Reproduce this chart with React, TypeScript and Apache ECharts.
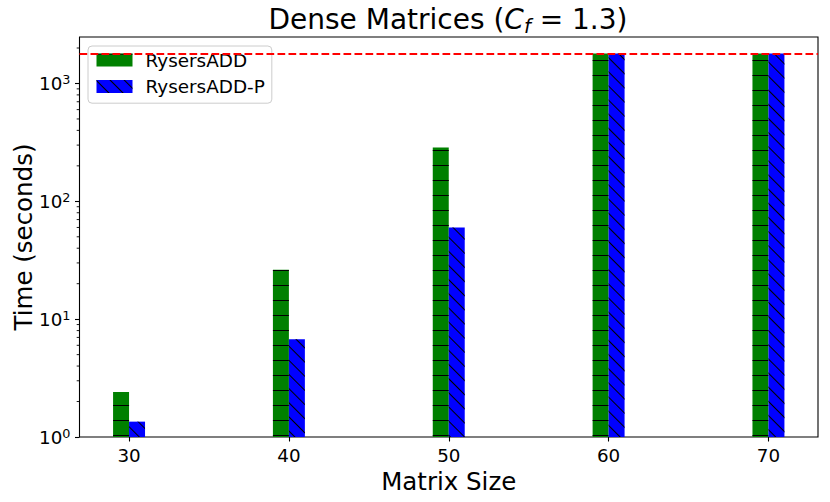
import React, { useEffect, useRef } from "react";
import * as echarts from "echarts";

const sizes = [30, 40, 50, 60, 70];
const rysersADD = [2.41, 26.2, 286, 1800, 1800];
const rysersADDP = [1.35, 6.74, 60, 1800, 1800];
const timeoutLimit = 1800;
const xTicks = [30, 40, 50, 60, 70];
const yTicks = [1, 10, 100, 1000];
const yTickExponents = ["0", "1", "2", "3"];
const yMinorTicks = [
  2, 3, 4, 5, 6, 7, 8, 9,
  20, 30, 40, 50, 60, 70, 80, 90,
  200, 300, 400, 500, 600, 700, 800, 900,
  2000,
];
const xMin = 26.9;
const xMax = 73.1;
const yMin = 1;
const yMax = 2480;

const FONT = "DejaVu Sans";

export default function App() {
  const ref = useRef<HTMLDivElement>(null);
  useEffect(() => {
    if (!ref.current) return;
    const chart = echarts.init(ref.current, null, { renderer: "svg" });
    const option: any = {
      animation: false,
      backgroundColor: "#ffffff",
      textStyle: { fontFamily: FONT, color: "#000" },
      title: {
        text: "{n|Dense Matrices (}{i|C}{sub|f}{n| = 1.3)}",
        left: 448,
        top: 2,
        textAlign: "center",
        padding: 0,
        textStyle: {
          fontFamily: FONT,
          fontWeight: "normal",
          rich: {
            n: { fontFamily: FONT, fontSize: 28, fontWeight: "normal", color: "#000", lineHeight: 34 },
            i: { fontFamily: FONT, fontSize: 28, fontWeight: "normal", fontStyle: "italic", color: "#000", lineHeight: 34 },
            sub: {
              fontFamily: FONT,
              fontSize: 19.6,
              fontWeight: "normal",
              fontStyle: "italic",
              color: "#000",
              lineHeight: 25,
              verticalAlign: "bottom",
            },
          },
        },
      },
      legend: {
        left: 88,
        top: 46,
        orient: "vertical",
        align: "left",
        icon: "rect",
        itemWidth: 36,
        itemHeight: 13,
        itemGap: 8.3,
        padding: [5.1, 7, 7.8, 8.5],
        borderColor: "#cccccc",
        borderWidth: 1,
        borderRadius: 4,
        backgroundColor: "rgba(255,255,255,0.8)",
        data: ["RysersADD", "RysersADD-P"],
        textStyle: {
          fontFamily: FONT,
          fontSize: 18.4,
          color: "#000",
          padding: [0, 0, 0, 8],
        },
      },
      grid: {
        left: 79.5,
        right: 12,
        top: 37,
        bottom: 65,
        show: true,
        containLabel: false,
        outerBoundsMode: "none",
        borderColor: "#000",
        borderWidth: 1.1,
        backgroundColor: "transparent",
      },
      xAxis: {
        type: "value",
        min: xMin,
        max: xMax,
        name: "Matrix Size",
        nameLocation: "middle",
        nameGap: 29,
        nameTextStyle: { fontFamily: FONT, fontSize: 24.5, color: "#000" },
        axisLine: { show: false },
        splitLine: { show: false },
        axisTick: {
          show: true,
          length: 4.5,
          customValues: xTicks,
          lineStyle: { color: "#000", width: 1.1 },
        },
        axisLabel: {
          customValues: xTicks,
          fontFamily: FONT,
          fontSize: 18.3,
          color: "#000",
          margin: 9,
        },
      },
      yAxis: {
        type: "log",
        logBase: 10,
        min: yMin,
        max: yMax,
        name: "Time (seconds)",
        nameLocation: "middle",
        nameGap: 43.5,
        nameMoveOverlap: false,
        nameTextStyle: { fontFamily: FONT, fontSize: 24.5, color: "#000" },
        axisLine: { show: false },
        splitLine: { show: false },
        axisTick: {
          show: true,
          length: 4.5,
          customValues: yTicks,
          lineStyle: { color: "#000", width: 1.1 },
        },
        axisLabel: {
          customValues: yTicks,
          margin: 9,
          formatter: (v: number) => {
            const idx = yTicks.findIndex((t) => Math.abs(t - v) / t < 1e-6);
            return "{b|10}{s|" + (idx >= 0 ? yTickExponents[idx] : "") + "}";
          },
          rich: {
            b: { fontFamily: FONT, fontSize: 18.3, color: "#000", lineHeight: 20 },
            s: {
              fontFamily: FONT,
              fontSize: 12.8,
              color: "#000",
              lineHeight: 12,
              verticalAlign: "top",
            },
          },
        },
      },
      series: [
        {
          name: "RysersADD",
          type: "bar",
          data: sizes.map((s, i) => [s, rysersADD[i]]),
          barWidth: "10%",
          barGap: "0%",
          itemStyle: {
            color: "#008000",
            decal: {
              symbol: "rect",
              symbolSize: 1,
              color: "#000000",
              dashArrayX: [[5, 0]],
              dashArrayY: [1, 13.5],
              rotation: 0,
            },
          },
        },
        {
          name: "RysersADD-P",
          type: "bar",
          data: sizes.map((s, i) => [s, rysersADDP[i]]),
          barWidth: "10%",
          barGap: "0%",
          itemStyle: {
            color: "#0000ff",
            decal: {
              symbol: "rect",
              symbolSize: 1,
              color: "#000000",
              dashArrayX: [[5, 0]],
              dashArrayY: [1, 9],
              rotation: Math.PI / 4,
            },
          },
          markLine: {
            silent: true,
            symbol: ["none", "none"],
            label: { show: false },
            lineStyle: { color: "#ff0000", type: [7.7, 3.3], width: 2 },
            data: [{ yAxis: timeoutLimit }],
          },
        },
        {
          name: "minorTicks",
          type: "custom",
          silent: true,
          clip: false,
          z: 5,
          data: yMinorTicks.map((v) => [xMin, v]),
          renderItem: (params: any, api: any) => {
            const p = api.coord([api.value(0), api.value(1)]);
            return {
              type: "line",
              shape: { x1: p[0] - 2.8, y1: p[1], x2: p[0], y2: p[1] },
              style: { stroke: "#000", lineWidth: 0.9 },
            };
          },
        },
      ],
    };
    chart.setOption(option);
    return () => chart.dispose();
  }, []);
  return (
    <div
      ref={ref}
      style={{ position: "fixed", left: 0, top: 0, width: 830, height: 502 }}
    />
  );
}
